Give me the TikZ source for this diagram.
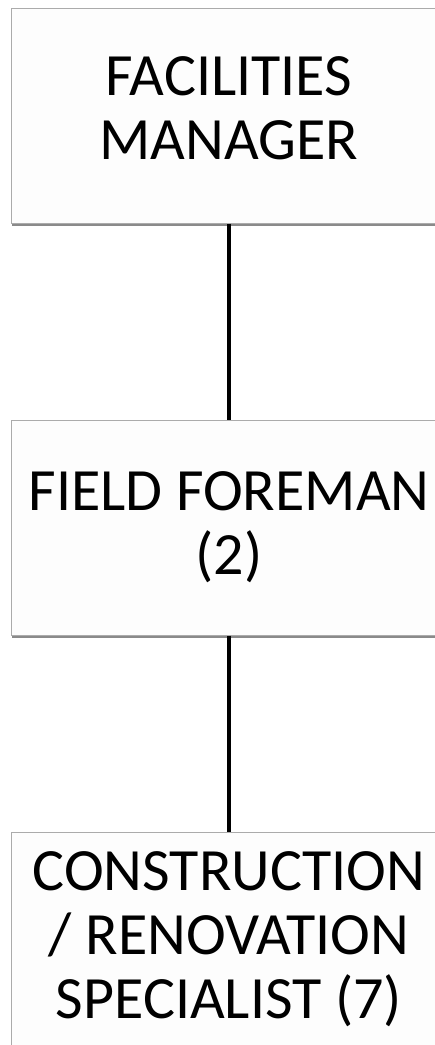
\documentclass[tikz,border=0pt]{standalone}
\usepackage{fontspec}
\setmainfont{Carlito}
\usepackage{tikz}
\usetikzlibrary{positioning,calc}
\definecolor{edge}{HTML}{ABABAB}
\definecolor{paper}{HTML}{FDFDFD}
\definecolor{shade}{HTML}{8A8A8A}
\tikzset{
  role/.style={rectangle,draw=edge,fill=paper,line width=1pt,align=center,
    minimum width=436pt,minimum height=215pt,inner sep=0pt,
    font=\fontsize{60}{64}\selectfont},
  shadowed/.style={preaction={draw=shade,fill=shade,line width=1pt,transform canvas={xshift=1pt,yshift=-2.5pt}}},
  link/.style={draw=black,line width=4pt},
}
\begin{document}
\begin{tikzpicture}[x=1pt,y=1pt]
  \useasboundingbox[fill=white] (0,0) rectangle (435,-1045);
  \node[role,shadowed,text depth=14pt] (fm) at (229,-115.5) {FACILITIES\\MANAGER};
  \node[role,shadowed] (ff) at (229,-527.5) {FIELD FOREMAN\\(2)};
  \node[role,shadowed] (crs) at (229,-939.5) {CONSTRUCTION\\/ RENOVATION\\SPECIALIST (7)};
  \draw[link] (fm.south) -- (ff.north);
  \draw[link] (ff.south) -- (crs.north);
\end{tikzpicture}
\end{document}
